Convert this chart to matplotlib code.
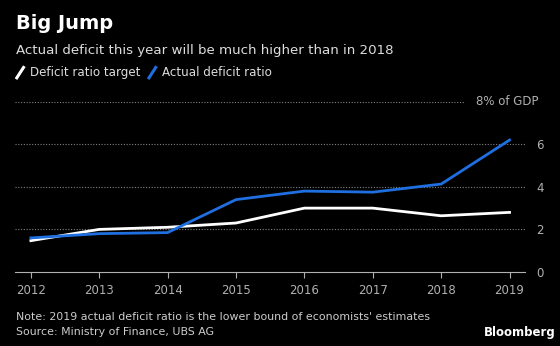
import matplotlib
matplotlib.use("Agg")
import matplotlib.pyplot as plt
from matplotlib.lines import Line2D

years = [2012, 2013, 2014, 2015, 2016, 2017, 2018, 2019]
target_ratio = [1.47, 2.0, 2.1, 2.3, 3.0, 3.0, 2.64, 2.8]
actual_ratio = [1.6, 1.8, 1.85, 3.4, 3.8, 3.75, 4.13, 6.2]
y_ticks = [0, 2, 4, 6]

BG = "black"
BLUE = "#1f6fe0"
GREY = "#b0b0b0"

plt.rcParams["font.family"] = "DejaVu Sans"
fig = plt.figure(figsize=(5.6, 3.46), dpi=100, facecolor=BG)
ax = fig.add_axes([0.027, 0.214, 0.911, 0.492], facecolor=BG)

ax.plot(years, target_ratio, color="white", lw=2.0, solid_joinstyle="miter")
ax.plot(years, actual_ratio, color=BLUE, lw=2.0, solid_joinstyle="miter")

ax.set_xlim(2011.77, 2019.23)
ax.set_ylim(0, 8)
ax.set_xticks(years)
ax.set_xticklabels([str(y) for y in years], color=GREY, fontsize=8.5)
ax.yaxis.tick_right()
ax.set_yticks(y_ticks)
ax.set_yticklabels([str(v) for v in y_ticks], color=GREY, fontsize=8.5)
ax.tick_params(axis="y", length=0, pad=8)
ax.tick_params(axis="x", length=4, color=GREY, pad=5)

for s in ["top", "left", "right"]:
    ax.spines[s].set_visible(False)
ax.spines["bottom"].set_color(GREY)
ax.spines["bottom"].set_linewidth(0.8)

# dotted grid; the top line is shortened to leave room for the unit label
for v in [2, 4, 6]:
    ax.axhline(v, color="#808080", lw=0.8, ls=(0, (1, 1.5)), zorder=0)
ax.plot([2011.77, 2018.35], [8, 8], color="#808080", lw=0.8, ls=(0, (1, 1.5)),
        zorder=0, clip_on=False)
ax.text(1.025, 8, "8% of GDP", transform=ax.get_yaxis_transform(),
        ha="right", va="center", color=GREY, fontsize=8.5)

fig.text(0.028, 0.915, "Big Jump", color="white", fontsize=14, fontweight="bold")
fig.text(0.028, 0.845, "Actual deficit this year will be much higher than in 2018",
         color="#dddddd", fontsize=9.6)

# legend with slash markers
def legend_item(x, label, color):
    fig.add_artist(Line2D([x, x + 0.012], [0.775, 0.805], color=color, lw=2.2,
                          transform=fig.transFigure))
    fig.text(x + 0.024, 0.79, label, color="#dddddd", fontsize=8.6, va="center")

legend_item(0.03, "Deficit ratio target", "white")
legend_item(0.266, "Actual deficit ratio", BLUE)

fig.text(0.028, 0.075, "Note: 2019 actual deficit ratio is the lower bound of economists' estimates",
         color="#cccccc", fontsize=7.9)
fig.text(0.028, 0.032, "Source: Ministry of Finance, UBS AG", color="#cccccc", fontsize=7.9)
fig.text(0.993, 0.03, "Bloomberg", color="white", fontsize=8.5, fontweight="bold", ha="right")

fig.savefig("out.png", dpi=100, facecolor=BG)
